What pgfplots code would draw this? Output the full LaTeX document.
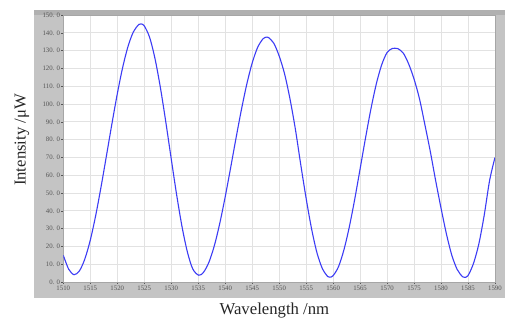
\documentclass[border=0pt]{standalone}
\usepackage{fontspec}
\setmainfont{Liberation Serif}
\usepackage{pgfplots}
\pgfplotsset{compat=1.18}
\definecolor{panel}{RGB}{196,196,196}
\definecolor{topbar}{RGB}{176,176,176}
\definecolor{gridc}{RGB}{226,226,226}
\definecolor{curve}{RGB}{60,60,245}
\definecolor{tickc}{RGB}{85,85,85}
\newcommand{\labfont}{\fontsize{16.7}{18}\selectfont}
\newcommand{\tickfont}{\fontsize{6.8}{7.5}\selectfont}
\begin{document}
\begin{tikzpicture}[x=1pt,y=1pt]
\path[use as bounding box] (-63.3,-38) rectangle (441.7,282);
\fill[panel] (-29.3,-16) rectangle (441.7,272);
\fill[topbar] (-29.3,267) rectangle (441.7,272);
\begin{axis}[
  at={(0,0)}, anchor=south west,
  scale only axis, width=431.7pt, height=267pt,
  xmin=1510, xmax=1590, ymin=0, ymax=150,
  axis background/.style={fill=white},
  xtick={1510,1515,...,1590},
  ytick={0,10,...,150},
  yticklabels={0. 0,10. 0,20. 0,30. 0,40. 0,50. 0,60. 0,70. 0,80. 0,90. 0,100. 0,110. 0,120. 0,130. 0,140. 0,150. 0},
  /pgf/number format/assume math mode=true,
  /pgf/number format/set thousands separator={},
  grid=major,
  major grid style={gridc, line width=0.8pt},
  axis line style={draw=gray!70, line width=0.6pt},
  tick align=outside, xtick pos=bottom, ytick pos=left,
  major tick length=2pt,
  tick style={tickc, line width=0.5pt},
  ticklabel style={font=\tickfont, text=tickc},
  yticklabel style={inner sep=1pt},
  xticklabel style={inner sep=1.5pt},
  xlabel={\labfont Wavelength /nm},
  ylabel={\labfont Intensity /μW},
  every axis x label/.style={at={(axis description cs:0.489,-0.105)}, anchor=center, text=black!85},
  every axis y label/.style={at={(axis description cs:-0.096,0.532)}, anchor=center, rotate=90, text=black!85},
]
\addplot[curve, line width=1.1pt, smooth] coordinates {
(1510,15) (1511,7.2) (1512,4.1) (1513,6.3) (1514,13.0) (1515,23.5) (1516,37.3) (1517,53.5) (1518,71.0)
(1519,88.7) (1520,105.6) (1521,120.5) (1522,132.4) (1523,140.6) (1524,144.7) (1524.4,145.0)
(1525,143.9) (1526,137.4) (1527,125.4) (1528,109.1) (1529,89.8) (1530,69.2) (1531,49.1) (1532,31.1)
(1533,16.8) (1534,7.3) (1535.1,3.8)
(1536,5.5) (1537,11.2) (1538,20.5) (1539,33.0) (1540,47.8) (1541,64.0) (1542,80.7) (1543,96.7)
(1544,111.1) (1545,123.0) (1546,131.7) (1547,136.6) (1547.7,137.6)
(1548,137.4) (1549,134.2) (1550,127.0) (1551,117.0) (1552,103.0) (1553,86.0) (1554,66.0) (1555,47.0)
(1556,30.0) (1557,16.5) (1558,7.6) (1559,3.05) (1559.4,2.7)
(1560,3.55) (1561,8.6) (1562,18.0) (1563,30.9) (1564,46.4) (1565,63.5) (1566,80.8) (1567,97.1)
(1568,111.2) (1569,122.0) (1570,128.9) (1571,131.2) (1571.8,131.2)
(1572,131.1) (1573,128.6) (1574,122.5) (1575,114.0) (1576,103.0) (1577,88.5) (1578,73.5) (1579,57.0)
(1580,41.5) (1581,27.0) (1582,15.0) (1583,7.0) (1584,2.9) (1584.4,2.6)
(1585,3.6) (1586,10.3) (1587,21.3) (1588,37.5) (1589,57.0) (1590,70.0)
};
\end{axis}
\end{tikzpicture}
\end{document}
